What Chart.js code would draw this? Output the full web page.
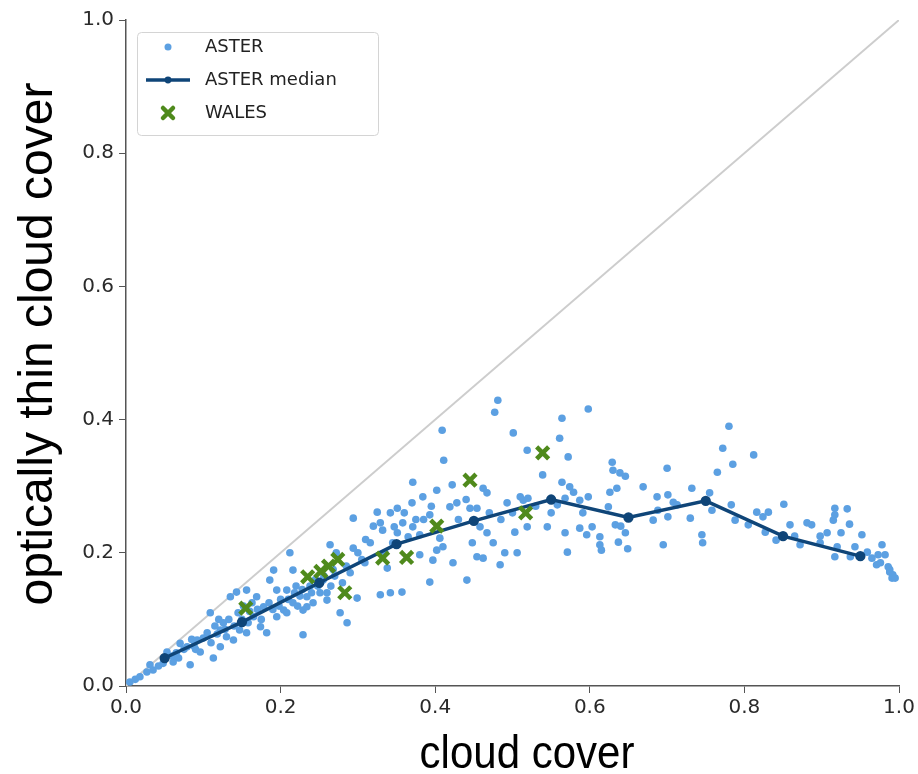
<!DOCTYPE html>
<html>
<head>
<meta charset="utf-8">
<title>Optically thin cloud cover</title>
<script src="https://cdn.jsdelivr.net/npm/chart.js@4.4.1/dist/chart.umd.min.js"></script>
<style>
    html, body { margin: 0; padding: 0; background: #fff; }
    #wrap { width: 918px; height: 774px; position: relative; }
</style>
</head>
<body>
<div id="wrap"><canvas id="cloudChart" width="918" height="774"></canvas></div>
<script>
// Data
const asterPoints = [
    [0.005,0.006],[0.012,0.01],[0.018,0.014],[0.027,0.021],[0.035,0.024],[0.031,0.032],[0.042,0.03],
    [0.048,0.034],[0.053,0.051],[0.061,0.036],[0.065,0.05],[0.07,0.064],[0.075,0.055],[0.079,0.059],
    [0.083,0.032],[0.088,0.06],[0.092,0.069],[0.096,0.051],[0.1,0.072],[0.105,0.08],[0.109,0.11],
    [0.113,0.042],[0.118,0.078],[0.122,0.084],[0.122,0.059],[0.126,0.095],[0.13,0.074],[0.135,0.134],
    [0.139,0.069],[0.143,0.141],[0.147,0.084],[0.15,0.1],[0.156,0.144],[0.156,0.08],[0.16,0.112],
    [0.165,0.104],[0.169,0.134],[0.174,0.089],[0.178,0.119],[0.182,0.08],[0.186,0.159],[0.191,0.174],
    [0.195,0.144],[0.195,0.104],[0.2,0.13],[0.204,0.114],[0.208,0.144],[0.208,0.11],[0.212,0.2],
    [0.216,0.174],[0.216,0.125],[0.22,0.15],[0.225,0.135],[0.229,0.077],[0.229,0.114],[0.234,0.134],
    [0.234,0.119],[0.238,0.15],[0.242,0.125],[0.245,0.16],[0.251,0.14],[0.255,0.159],[0.26,0.129],
    [0.26,0.14],[0.264,0.212],[0.265,0.15],[0.27,0.165],[0.277,0.11],[0.28,0.155],[0.286,0.095],
    [0.29,0.17],[0.294,0.252],[0.294,0.207],[0.299,0.132],[0.305,0.19],[0.309,0.185],[0.316,0.215],
    [0.325,0.261],[0.329,0.245],[0.329,0.137],[0.332,0.234],[0.338,0.177],[0.342,0.26],[0.342,0.14],
    [0.347,0.239],[0.351,0.267],[0.351,0.23],[0.357,0.141],[0.358,0.245],[0.365,0.224],[0.37,0.275],
    [0.371,0.306],[0.371,0.239],[0.375,0.25],[0.38,0.227],[0.38,0.197],[0.384,0.284],[0.393,0.257],
    [0.393,0.156],[0.397,0.189],[0.402,0.294],[0.402,0.204],[0.406,0.222],[0.409,0.384],[0.41,0.209],
    [0.411,0.339],[0.419,0.269],[0.422,0.302],[0.423,0.185],[0.428,0.275],[0.441,0.159],[0.445,0.267],
    [0.448,0.215],[0.454,0.267],[0.454,0.194],[0.458,0.239],[0.462,0.297],[0.462,0.192],[0.467,0.29],
    [0.467,0.23],[0.475,0.215],[0.477,0.411],[0.481,0.429],[0.484,0.182],[0.49,0.2],[0.493,0.275],
    [0.501,0.38],[0.503,0.231],[0.506,0.2],[0.51,0.284],[0.514,0.279],[0.519,0.354],[0.519,0.239],
    [0.52,0.282],[0.539,0.317],[0.545,0.239],[0.558,0.272],[0.561,0.372],[0.564,0.402],[0.564,0.306],
    [0.568,0.282],[0.568,0.23],[0.571,0.201],[0.572,0.344],[0.574,0.299],[0.579,0.291],[0.587,0.279],
    [0.587,0.237],[0.591,0.26],[0.596,0.227],[0.598,0.416],[0.598,0.284],[0.603,0.239],[0.613,0.224],
    [0.613,0.212],[0.615,0.204],[0.624,0.269],[0.626,0.291],[0.629,0.336],[0.63,0.324],[0.633,0.242],
    [0.635,0.297],[0.637,0.216],[0.639,0.32],[0.64,0.24],[0.646,0.315],[0.646,0.23],[0.649,0.206],
    [0.669,0.299],[0.682,0.249],[0.687,0.284],[0.688,0.264],[0.695,0.212],[0.7,0.327],[0.701,0.287],
    [0.701,0.254],[0.708,0.276],[0.713,0.272],[0.73,0.252],[0.732,0.297],[0.745,0.227],[0.746,0.215],
    [0.755,0.29],[0.758,0.264],[0.765,0.321],[0.772,0.357],[0.78,0.39],[0.783,0.272],[0.785,0.333],
    [0.788,0.249],[0.805,0.242],[0.812,0.347],[0.816,0.261],[0.824,0.254],[0.827,0.231],[0.831,0.261],
    [0.841,0.219],[0.851,0.273],[0.859,0.242],[0.865,0.225],[0.872,0.212],[0.881,0.245],[0.887,0.242],
    [0.898,0.225],[0.898,0.215],[0.907,0.23],[0.915,0.249],[0.917,0.267],[0.917,0.257],[0.917,0.194],
    [0.92,0.209],[0.925,0.23],[0.933,0.266],[0.936,0.243],[0.937,0.194],[0.943,0.209],[0.952,0.227],
    [0.959,0.201],[0.965,0.192],[0.971,0.182],[0.973,0.197],[0.976,0.185],[0.978,0.212],[0.982,0.197],
    [0.986,0.179],[0.988,0.171],[0.988,0.175],[0.991,0.162],[0.992,0.167],[0.995,0.162],
    // denser band along the median
    [0.06,0.045],[0.068,0.042],[0.085,0.07],[0.09,0.055],[0.11,0.065],[0.115,0.09],[0.12,0.1],
    [0.128,0.085],[0.133,0.1],[0.14,0.09],[0.145,0.11],[0.152,0.12],[0.158,0.095],[0.163,0.125],
    [0.17,0.115],[0.175,0.1],[0.185,0.125],[0.19,0.115],[0.198,0.12],[0.21,0.13],[0.218,0.14],
    [0.222,0.12],[0.228,0.145],[0.24,0.14],[0.248,0.15],[0.256,0.165],[0.268,0.175],[0.272,0.2],
    [0.285,0.18],[0.3,0.2],[0.31,0.22],[0.32,0.24],[0.335,0.2],[0.345,0.215],[0.36,0.26],
    [0.385,0.25],[0.395,0.27],[0.43,0.25],[0.44,0.28],[0.47,0.26],[0.485,0.25],[0.5,0.26],
    [0.53,0.27],[0.55,0.26]
];

const medianX = [0.05, 0.15, 0.25, 0.35, 0.45, 0.55, 0.65, 0.75, 0.85, 0.95];
const medianY = [0.042, 0.096, 0.155, 0.213, 0.248, 0.28, 0.253, 0.278, 0.225, 0.195];

const walesX = [0.155, 0.235, 0.252, 0.262, 0.274, 0.283, 0.332, 0.363, 0.402, 0.445, 0.517, 0.539];
const walesY = [0.117, 0.164, 0.172, 0.18, 0.19, 0.14, 0.192, 0.193, 0.24, 0.309, 0.26, 0.35];

const axisTicks = [0, 0.2, 0.4, 0.6, 0.8, 1.0];

// Colours
const asterColor = '#5ca0e2';
const medianColor = '#0f4578';
const walesColor = '#4f8a1c';
const diagColor = '#cdcdcd';

function toXY(xs, ys) {
    return xs.map((x, i) => ({ x: x, y: ys[i] }));
}

// Legend drawn inside the axes (top-left), matplotlib style
const insideLegend = {
    id: 'insideLegend',
    afterDraw(chart) {
        const ctx = chart.ctx;
        const area = chart.chartArea;
        const left = area.left + 11;
        const top = area.top + 12;
        const w = 241, h = 103;

        ctx.save();
        ctx.fillStyle = 'rgba(255,255,255,0.85)';
        ctx.strokeStyle = '#d4d4d4';
        ctx.lineWidth = 1;
        ctx.beginPath();
        ctx.roundRect(left + 0.5, top + 0.5, w, h, 4);
        ctx.fill();
        ctx.stroke();

        const mx = left + 31;
        const rows = [top + 15, top + 48, top + 81];

        // ASTER dot
        ctx.fillStyle = asterColor;
        ctx.beginPath();
        ctx.arc(mx, rows[0], 3.5, 0, Math.PI * 2);
        ctx.fill();

        // ASTER median line
        ctx.strokeStyle = medianColor;
        ctx.lineWidth = 3.5;
        ctx.beginPath();
        ctx.moveTo(mx - 22, rows[1]);
        ctx.lineTo(mx + 22, rows[1]);
        ctx.stroke();
        ctx.fillStyle = medianColor;
        ctx.beginPath();
        ctx.arc(mx, rows[1], 3.4, 0, Math.PI * 2);
        ctx.fill();

        // WALES cross
        ctx.strokeStyle = walesColor;
        ctx.lineWidth = 4.5;
        ctx.lineCap = 'round';
        ctx.beginPath();
        ctx.moveTo(mx - 5, rows[2] - 5);
        ctx.lineTo(mx + 5, rows[2] + 5);
        ctx.moveTo(mx - 5, rows[2] + 5);
        ctx.lineTo(mx + 5, rows[2] - 5);
        ctx.stroke();

        ctx.fillStyle = '#222';
        ctx.font = '18px "DejaVu Sans"';
        ctx.textBaseline = 'middle';
        ctx.fillText('ASTER', left + 68, rows[0]);
        ctx.fillText('ASTER median', left + 68, rows[1]);
        ctx.fillText('WALES', left + 68, rows[2]);
        ctx.restore();
    }
};

// Big axis titles
const axisTitles = {
    id: 'axisTitles',
    afterDraw(chart) {
        const ctx = chart.ctx;
        ctx.save();
        ctx.fillStyle = '#000';
        ctx.textAlign = 'center';
        ctx.textBaseline = 'alphabetic';

        ctx.font = '42px "Liberation Sans"';
        ctx.save();
        ctx.translate(527, 768);
        ctx.scale(1, 1.08);
        ctx.fillText('cloud cover', 0, 0);
        ctx.restore();

        ctx.font = '48px "Liberation Sans"';
        ctx.translate(52, 344);
        ctx.rotate(-Math.PI / 2);
        ctx.fillText('optically thin cloud cover', 0, 0);
        ctx.restore();
    }
};

function buildChart() {
    const ctx = document.getElementById('cloudChart').getContext('2d');
    const tickFont = { family: 'DejaVu Sans', size: 20 };

    new Chart(ctx, {
        type: 'scatter',
        data: {
            datasets: [{
                label: 'diagonal',
                data: toXY([0, 1], [0, 1]),
                showLine: true,
                borderColor: diagColor,
                borderWidth: 2,
                pointRadius: 0,
                order: 4
            }, {
                label: 'ASTER',
                data: asterPoints.map(p => ({ x: p[0], y: p[1] })),
                backgroundColor: asterColor,
                borderWidth: 0,
                pointRadius: 3.8,
                order: 3
            }, {
                label: 'ASTER median',
                data: toXY(medianX, medianY),
                showLine: true,
                borderColor: medianColor,
                backgroundColor: medianColor,
                borderWidth: 3.5,
                pointRadius: 3.4,
                order: 2
            }, {
                label: 'WALES',
                data: toXY(walesX, walesY),
                pointStyle: 'crossRot',
                pointRadius: 8.5,
                borderColor: walesColor,
                borderWidth: 4.5,
                order: 1
            }]
        },
        options: {
            responsive: false,
            animation: false,
            devicePixelRatio: 1,
            layout: { padding: { left: 0, top: 20, right: 19, bottom: 0 } },
            plugins: {
                legend: { display: false },
                tooltip: { enabled: false }
            },
            scales: {
                x: {
                    type: 'linear',
                    min: 0,
                    max: 1,
                    afterFit: scale => { scale.height = 88; },
                    afterBuildTicks: scale => { scale.ticks = axisTicks.map(v => ({ value: v })); },
                    grid: { drawOnChartArea: false, tickLength: 7, color: '#555' },
                    border: { color: '#555', width: 1.5 },
                    ticks: {
                        font: tickFont,
                        color: '#2a2a2a',
                        padding: 3,
                        maxRotation: 0,
                        callback: v => v.toFixed(1)
                    }
                },
                y: {
                    type: 'linear',
                    min: 0,
                    max: 1,
                    afterFit: scale => { scale.width = 126; },
                    afterBuildTicks: scale => { scale.ticks = axisTicks.map(v => ({ value: v })); },
                    grid: { drawOnChartArea: false, tickLength: 7, color: '#555' },
                    border: { color: '#555', width: 1.5 },
                    ticks: {
                        font: tickFont,
                        color: '#2a2a2a',
                        padding: 5,
                        callback: v => v.toFixed(1)
                    }
                }
            }
        },
        plugins: [insideLegend, axisTitles]
    });
}

document.addEventListener('DOMContentLoaded', buildChart);
</script>
</body>
</html>
